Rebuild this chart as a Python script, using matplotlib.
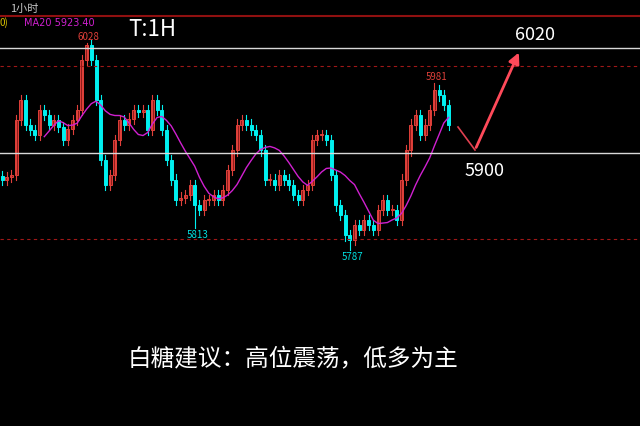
import numpy as np
import matplotlib.pyplot as plt

plt.rcParams['font.family'] = ['Noto Sans CJK SC', 'DejaVu Sans']

# hourly closes left to right
closes = [5869, 5872, 5874, 5938, 5962, 5933, 5927, 5921, 5950, 5944, 5933, 5938, 5930,
          5915, 5928, 5938, 5950, 6008, 6026, 6008, 5962, 5892, 5863, 5874, 5915, 5938,
          5933, 5940, 5950, 5948, 5950, 5927, 5962, 5950, 5927, 5892, 5869, 5845, 5848,
          5851, 5863, 5839, 5834, 5845, 5845, 5851, 5845, 5857, 5880, 5903, 5933, 5938,
          5933, 5927, 5921, 5903, 5869, 5869, 5863, 5874, 5869, 5863, 5851, 5845, 5857,
          5863, 5915, 5921, 5921, 5915, 5874, 5839, 5828, 5804, 5799, 5816, 5810, 5822,
          5816, 5810, 5834, 5845, 5834, 5834, 5822, 5869, 5903, 5933, 5944, 5921, 5933,
          5950, 5973, 5967, 5956, 5933]
ext_high = {18: 6028, 92: 5981}
ext_low = {41: 5813, 74: 5787}

ma_period = 10
ma = np.convolve(closes, np.ones(ma_period) / ma_period, mode='valid')

def y_of(px):
    return 6028 - (px - 43) * 1.164

step = 4.7
fig = plt.figure(figsize=(6.4, 4.26), dpi=100, facecolor='black')
ax = fig.add_axes([0, 0, 1, 1], facecolor='black')
ax.set_xlim(0, 640)
ax.set_ylim(y_of(426), y_of(0))
ax.axis('off')

opens = [closes[0] + 4] + closes[:-1]
for i, (o, c) in enumerate(zip(opens, closes)):
    x = i * step + 2
    hi = ext_high.get(i, max(o, c) + 6)
    lo = ext_low.get(i, min(o, c) - 6)
    col = '#e0403a' if c >= o else '#00f0f0'
    ax.plot([x, x], [lo, hi], color=col, lw=0.8)
    ax.bar(x, abs(c - o) or 1, bottom=min(o, c), width=3.0,
           color='#8a1a1a' if c >= o else col, edgecolor=col, lw=0.7)

ma_x = np.arange(ma_period - 1, len(closes)) * step + 2
ax.plot(ma_x, ma, color='#d020d0', lw=1)

ax.axhline(6022, color='#d8d8d8', lw=1)
ax.axhline(5900, color='#d8d8d8', lw=1)
for lv in (6001, 5800):
    ax.axhline(lv, color='#a01818', lw=0.8, ls=(0, (3, 3)))
ax.plot([0, 640], [y_of(16)] * 2, color='#901010', lw=1.5)

ax.text(10, y_of(9), '1小时', color='#c8c8c8', fontsize=8, va='center')
ax.text(0, y_of(23), '0)', color='#d8c000', fontsize=7, va='center')
ax.text(24, y_of(23), 'MA20 5923.40', color='#d020d0', fontsize=7, va='center',
        family='DejaVu Sans')
ax.text(128, y_of(30), 'T:1H', color='white', fontsize=16, va='center')
ax.text(88, y_of(37), '6028', color='#e0403a', fontsize=7, ha='center', va='center')
ax.text(198, y_of(235), '5813', color='#00e0e0', fontsize=7, ha='center', va='center')
ax.text(352, y_of(257), '5787', color='#00e0e0', fontsize=7, ha='center', va='center')
ax.text(437, y_of(77), '5981', color='#e0403a', fontsize=7, ha='center', va='center')
ax.text(535, y_of(35), '6020', color='white', fontsize=13, ha='center', va='center')
ax.text(485, y_of(171), '5900', color='white', fontsize=13, ha='center', va='center')
ax.text(293, y_of(360), '白糖建议：高位震荡，低多为主', color='white', fontsize=17,
        ha='center', va='center')

ax.plot([458, 475], [y_of(127), y_of(150)], color='#e04050', lw=1.2)
ax.annotate('', xy=(520, y_of(50)), xytext=(475, y_of(150)),
            arrowprops=dict(arrowstyle='-|>', color='#ff4a5a', lw=2, mutation_scale=16))

fig.savefig('out.png', dpi=100, facecolor='black')
